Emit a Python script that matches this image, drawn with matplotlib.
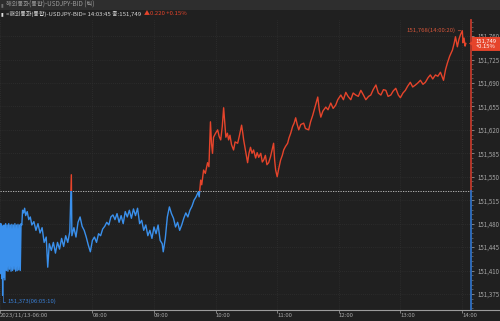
import matplotlib
matplotlib.use('Agg')
import numpy as np
import matplotlib.pyplot as plt
from matplotlib.patches import Rectangle, Polygon
from matplotlib.lines import Line2D
from matplotlib import transforms
from matplotlib.ticker import MultipleLocator

plt.rcParams['font.family'] = ['Noto Sans CJK KR', 'DejaVu Sans']

# USDJPY 틱 데이터
times = [
    "06:00:20", "06:01:00", "06:01:40", "06:02:20", "06:03:00", "06:03:40", "06:04:20", "06:05:10",
    "06:06:00", "06:07:00", "06:08:00", "06:09:30", "06:11:00", "06:12:30", "06:14:00", "06:15:30",
    "06:17:00", "06:18:30", "06:20:00", "06:21:30", "06:23:00", "06:24:30", "06:26:00", "06:27:30",
    "06:29:00", "06:30:30", "06:32:00", "06:33:30", "06:35:00", "06:36:30", "06:38:00", "06:39:30",
    "06:41:00", "06:42:30",
    "06:44:00", "06:46:00", "06:48:00", "06:50:00", "06:53:00", "06:56:00", "06:59:00", "07:01:00",
    "07:03:00", "07:05:00", "07:07:00", "07:09:00", "07:11:00", "07:13:00", "07:15:00", "07:16:30",
    "07:18:00", "07:20:00", "07:22:00", "07:24:00", "07:26:00", "07:28:00", "07:30:00", "07:32:00",
    "07:34:00", "07:36:00", "07:38:00", "07:39:30", "07:40:00", "07:42:00", "07:44:00", "07:46:00",
    "07:48:00", "07:50:00", "07:52:00", "07:54:00", "07:56:00", "07:58:00", "08:00:00", "08:02:00",
    "08:04:00", "08:06:00", "08:08:00", "08:10:00", "08:12:00", "08:14:00", "08:16:00", "08:18:00",
    "08:20:00", "08:22:00", "08:24:00", "08:26:00", "08:28:00", "08:30:00", "08:32:00", "08:34:00",
    "08:36:00", "08:38:00", "08:40:00", "08:42:00", "08:44:00", "08:46:00", "08:48:00", "08:50:00",
    "08:52:00", "08:54:00", "08:56:00", "08:58:00", "09:00:00", "09:02:00", "09:04:00", "09:06:00",
    "09:08:00", "09:09:00", "09:11:00", "09:13:00", "09:15:00", "09:17:00", "09:19:00", "09:21:00",
    "09:23:00", "09:25:00", "09:27:00", "09:29:00", "09:31:00", "09:33:00", "09:35:00", "09:37:00",
    "09:39:00", "09:41:00", "09:43:00", "09:44:00", "09:45:30", "09:46:30", "09:48:20", "09:50:00",
    "09:52:10", "09:53:30", "09:55:00", "09:56:00", "09:57:00", "09:58:00", "10:00:00", "10:02:00",
    "10:03:30", "10:05:00", "10:06:30", "10:07:50", "10:09:00", "10:10:00", "10:11:30", "10:12:40",
    "10:14:00", "10:15:30", "10:17:30", "10:19:00", "10:21:30", "10:23:00", "10:25:20", "10:26:30",
    "10:27:20", "10:29:00", "10:31:10", "10:32:30", "10:34:00", "10:35:30", "10:37:00", "10:39:00",
    "10:40:30", "10:42:00", "10:44:00", "10:45:30", "10:46:50", "10:48:30", "10:50:00", "10:51:40",
    "10:53:30", "10:55:00", "10:56:30", "10:57:30", "10:58:30", "11:00:00", "11:01:30", "11:03:20",
    "11:05:00", "11:06:20", "11:08:00", "11:10:10", "11:11:30", "11:13:10", "11:15:00", "11:16:30",
    "11:18:00", "11:19:30", "11:21:00", "11:23:00", "11:25:50", "11:27:30", "11:30:40", "11:32:30",
    "11:34:40", "11:37:00", "11:39:30", "11:41:00", "11:42:30", "11:44:30", "11:47:20", "11:49:30",
    "11:52:10", "11:54:30", "11:57:00", "11:59:00", "12:02:00", "12:04:30", "12:06:50", "12:09:00",
    "12:11:40", "12:14:00", "12:16:30", "12:19:00", "12:21:30", "12:24:00", "12:26:20", "12:29:00",
    "12:31:10", "12:33:30", "12:36:10", "12:38:30", "12:41:00", "12:43:30", "12:45:50", "12:48:00",
    "12:50:40", "12:53:00", "12:55:30", "12:58:00", "13:00:00", "13:02:30", "13:04:50", "13:07:00",
    "13:09:40", "13:12:00", "13:14:40", "13:17:00", "13:19:30", "13:22:00", "13:24:20", "13:27:00",
    "13:29:10", "13:31:30", "13:34:10", "13:36:30", "13:39:00", "13:40:30", "13:42:00", "13:44:00",
    "13:45:50", "13:48:00", "13:50:40", "13:52:30", "13:53:40", "13:55:30", "13:57:00", "13:58:30",
    "14:00:20", "14:01:00", "14:02:00", "14:03:00", "14:03:45",
]
prices = [
    151.478, 151.425, 151.480, 151.405, 151.478, 151.398, 151.476, 151.373,
    151.470, 151.400, 151.478, 151.396, 151.480, 151.410, 151.478, 151.409,
    151.480, 151.412, 151.478, 151.409, 151.479, 151.410, 151.478, 151.412,
    151.480, 151.409, 151.478, 151.410, 151.479, 151.411, 151.478, 151.410,
    151.480, 151.478,
    151.500, 151.496, 151.503, 151.492, 151.498, 151.486, 151.490, 151.478,
    151.483, 151.470, 151.480, 151.466, 151.474, 151.452, 151.460, 151.415,
    151.450, 151.440, 151.452, 151.436, 151.452, 151.442, 151.458, 151.446,
    151.462, 151.452, 151.468, 151.553, 151.462, 151.474, 151.460, 151.482,
    151.490, 151.476, 151.470, 151.460, 151.448, 151.438, 151.455, 151.460,
    151.452, 151.465, 151.462, 151.472, 151.476, 151.482, 151.478, 151.490,
    151.493, 151.486, 151.495, 151.482, 151.492, 151.480, 151.498, 151.490,
    151.500, 151.488, 151.502, 151.492, 151.503, 151.480, 151.485, 151.470,
    151.478, 151.462, 151.470, 151.458, 151.475, 151.465, 151.478, 151.455,
    151.450, 151.438, 151.458, 151.490, 151.505, 151.495, 151.488, 151.475,
    151.482, 151.470, 151.478, 151.488, 151.496, 151.490, 151.500, 151.506,
    151.515, 151.520, 151.527, 151.520, 151.545, 151.538, 151.560, 151.555,
    151.571, 151.565, 151.632, 151.600, 151.585, 151.609, 151.615, 151.620,
    151.610, 151.605, 151.625, 151.653, 151.630, 151.609, 151.615, 151.605,
    151.612, 151.598, 151.590, 151.602, 151.600, 151.610, 151.627, 151.615,
    151.605, 151.590, 151.571, 151.585, 151.594, 151.585, 151.590, 151.578,
    151.586, 151.579, 151.585, 151.572, 151.575, 151.582, 151.568, 151.571,
    151.580, 151.590, 151.600, 151.575, 151.560, 151.550, 151.562, 151.575,
    151.582, 151.590, 151.595, 151.600, 151.608, 151.615, 151.625, 151.630,
    151.638, 151.628, 151.620, 151.628, 151.630, 151.622, 151.620, 151.632,
    151.642, 151.655, 151.669, 151.650, 151.639, 151.648, 151.654, 151.650,
    151.660, 151.652, 151.657, 151.665, 151.672, 151.665, 151.676, 151.670,
    151.665, 151.675, 151.672, 151.670, 151.679, 151.672, 151.665, 151.670,
    151.672, 151.680, 151.687, 151.675, 151.672, 151.680, 151.679, 151.670,
    151.672, 151.678, 151.682, 151.672, 151.668, 151.675, 151.679, 151.685,
    151.691, 151.684, 151.687, 151.690, 151.694, 151.688, 151.691, 151.698,
    151.702, 151.696, 151.702, 151.700, 151.706, 151.700, 151.694, 151.710,
    151.720, 151.730, 151.739, 151.750, 151.759, 151.744, 151.755, 151.762,
    151.768, 151.750, 151.757, 151.745, 151.749,
]

base_price = 151.529  # 전일 종가
last_price = 151.749
change = "▲0.220 +0.15%"
high_label = "151,768(14:00:20)"
low_label = "151,373(06:05:10)"

ytick_vals = [151.375, 151.410, 151.445, 151.480, 151.515, 151.550,
              151.585, 151.620, 151.655, 151.690, 151.725, 151.760]
xtick_hours = [6, 8, 9, 10, 11, 12, 13, 14]
xtick_labels = ["2023/11/13-06:00", "08:00", "09:00", "10:00", "11:00", "12:00", "13:00", "14:00"]

BG = '#202020'
RED = '#e6442b'
BLUE = '#3a90ec'
GRAY = '#a6a6a6'


def to_hours(s):
    h, m, sec = map(int, s.split(':'))
    return h + m / 60 + sec / 3600


t = np.array([to_hours(s) for s in times])
p = np.array(prices)


# 06~07시 구간은 절반 폭으로 압축
def fwd(x):
    x = np.asarray(x, dtype=float)
    return np.where(x < 7, 6.5 + (x - 6) * 0.5, x)


def inv(x):
    x = np.asarray(x, dtype=float)
    return np.where(x < 7, 6 + (x - 6.5) * 2, x)


fig = plt.figure(figsize=(5, 3.21), dpi=100, facecolor=BG)
ax = fig.add_axes([0, 11 / 321, 471 / 500, 290 / 321])
ax.set_facecolor(BG)
ax.set_xscale('function', functions=(fwd, inv))
ax.set_xlim(6.0, 14 + 9 / 61.5)
ax.set_ylim(151.3511, 151.7840)

for s in ax.spines.values():
    s.set_visible(False)

# 선 색: 기준가 위 빨강, 아래 파랑
blend = transforms.blended_transform_factory(ax.transAxes, ax.transData)
red_line, = ax.plot(t, p, color=RED, lw=1.0, zorder=3)
blue_line, = ax.plot(t, p, color=BLUE, lw=1.0, zorder=3)
red_line.set_clip_path(Rectangle((0, base_price), 1, 5, transform=blend))
blue_line.set_clip_path(Rectangle((0, base_price - 5), 1, 5, transform=blend))

ax.axhline(base_price, color='#c8c8c8', lw=0.6, ls=(0, (1.5, 1.5)), zorder=2)

# 오른쪽 축선
ax.plot([1, 1], [base_price, 151.7840], color='#c0392b', lw=1.3, transform=blend, clip_on=False, zorder=4)
ax.plot([1, 1], [151.3511, base_price], color='#2f70c4', lw=1.3, transform=blend, clip_on=False, zorder=4)

ax.yaxis.tick_right()
ax.set_yticks(ytick_vals)
ax.set_yticklabels([f"{v:.3f}".replace('.', ',') for v in ytick_vals])
ax.yaxis.set_minor_locator(MultipleLocator(0.007))
ax.tick_params(axis='y', which='major', direction='out', length=2, width=0.5,
               colors=GRAY, labelsize=4.4, pad=2.5)
ax.tick_params(axis='y', which='minor', direction='out', length=1.3, width=0.4, colors='#8a8a8a')

ax.set_xticks([h for h in xtick_hours])
ax.set_xticklabels(xtick_labels)
ax.tick_params(axis='x', direction='out', length=2, width=0.5, colors=GRAY, labelsize=4.3, pad=0.5)
for lab in ax.get_xticklabels():
    lab.set_ha('left')

ax.grid(True, which='major', color='#363636', lw=0.5, ls=(0, (1, 2)))

# 하단 축선
fig.add_artist(Line2D([0, 1], [11 / 321, 11 / 321], color='#9c9c9c', lw=0.8))

# 최고/최저 표시
i_hi = int(np.argmax(p))
i_lo = int(np.argmin(p))
ax.annotate(high_label, xy=(t[i_hi], p[i_hi]), xytext=(-5, 0), textcoords='offset points',
            ha='right', va='center', fontsize=4.3, color='#d4553a',
            arrowprops=dict(arrowstyle='-', color='#d4553a', lw=0.5, shrinkA=0, shrinkB=1))
ax.annotate(low_label, xy=(t[i_lo], p[i_lo]), xytext=(3.5, -4.5), textcoords='offset points',
            ha='left', va='center', fontsize=4.3, color='#3a80d6',
            arrowprops=dict(arrowstyle='-', color='#3a80d6', lw=0.5, shrinkA=0, shrinkB=0,
                            connectionstyle='angle,angleA=0,angleB=90,rad=0'))

# 현재가 박스
fig.canvas.draw()
yd = ax.transData.transform((t[-1], last_price))[1] / fig.bbox.height
bh = 14 / 321
x0 = 472 / 500
fig.add_artist(Polygon([[x0, yd - bh / 2 - 0.5 / 321], [1, yd - bh / 2 - 0.5 / 321],
                        [1, yd + bh / 2 - 0.5 / 321], [x0, yd + bh / 2 - 0.5 / 321],
                        [x0, yd + 2 / 321], [x0 - 3 / 500, yd], [x0, yd - 2 / 321]],
                       closed=True, transform=fig.transFigure, fc=RED, ec='none', zorder=5))
fig.text((x0 + 1) / 2, yd - 0.5 / 321, f"{last_price:.3f}".replace('.', ',') + "\n+0.15%",
         ha='center', va='center', fontsize=4.2, color='white', linespacing=0.95, zorder=6)

# 상단 제목줄
fig.add_artist(Rectangle((0, 1 - 9.5 / 321), 1, 9.5 / 321, transform=fig.transFigure,
                         fc='#2e2e2e', ec='none', zorder=0))
fig.text(1 / 500, 1 - 5 / 321, "▮", fontsize=3.5, color='#707070', va='center')
fig.text(6 / 500, 1 - 5 / 321, "해외통화(통합)-USDJPY-BID (틱)", fontsize=4.5, color='#9a9a9a', va='center')
fig.text(1 / 500, 1 - 13.5 / 321, "▮", fontsize=3.5, color='#e0e0e0', va='center')
t1 = fig.text(6 / 500, 1 - 13.5 / 321, "<해외통화(통합)-USDJPY-BID> 14:03:45 종:151,749",
              fontsize=4.3, color='#d8d8d8', va='center')
fig.canvas.draw()
bb = t1.get_window_extent(fig.canvas.get_renderer())
fig.text(bb.x1 / fig.bbox.width + 3 / 500, 1 - 13.5 / 321, change, fontsize=4.3, color=RED, va='center')

fig.savefig('out.png', dpi=100, facecolor=BG)
